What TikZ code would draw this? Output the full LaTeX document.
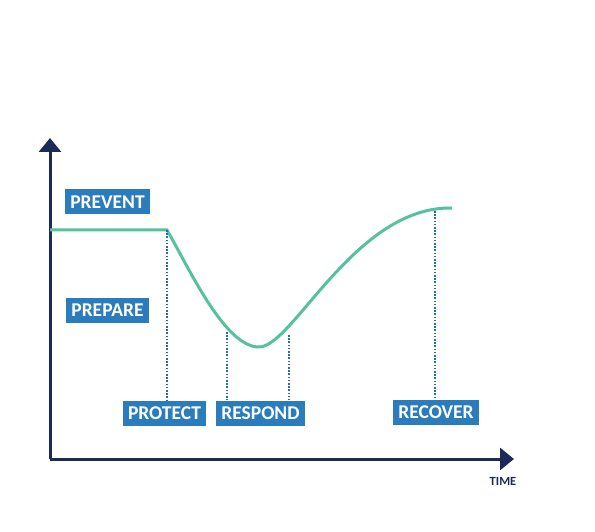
\documentclass[tikz,border=0pt]{standalone}
\usepackage{fontspec}
\setmainfont{Carlito}
\usetikzlibrary{arrows.meta}
\definecolor{axisblue}{HTML}{1B2A57}
\definecolor{curvegreen}{HTML}{55C29C}
\definecolor{boxblue}{HTML}{2A7CBC}
\definecolor{dotblue}{HTML}{2A68B8}
\tikzset{
  phase/.style={fill=boxblue, text=white, font=\fontsize{19.5}{19.5}\selectfont\bfseries, inner xsep=5.5pt, minimum height=25pt, text depth=0pt},
  axis/.style={draw=axisblue, line width=3pt},
  guide/.style={draw=dotblue, line width=1.1pt, dash pattern=on 1.6pt off 1.6pt}
}
\begin{document}
\begin{tikzpicture}[x=1pt, y=-1pt]
    \useasboundingbox (0,0) rectangle (595,532);
    \coordinate (o) at (50,459);
    \coordinate (ytop) at (50,138);
    \coordinate (xend) at (514,459);
    \begin{scope}[every node/.style=phase]
      \node (prevent) at (107.5,202) {PREVENT};
      \node (prepare) at (107.5,310) {PREPARE};
      \node (protect) at (164.5,413) {PROTECT};
      \node (respond) at (260.5,413) {RESPOND};
      \node (recover) at (436,412) {RECOVER};
    \end{scope}
    \node [text=axisblue, font=\fontsize{12.5}{12.5}\selectfont\bfseries] (time) at (503,481) {TIME};

      \draw [axis, -{Triangle[length=14pt, width=22pt]}] (o) -- (ytop);
      \draw [axis, -{Triangle[length=14pt, width=22pt]}] (o) -- (xend);

      % curve, and the points the guides hang from
      \draw [curvegreen, line width=3pt]
        (50,230) -- (167,230) coordinate (c1)
        .. controls (190,270) and (225,347) .. (259,347)
        .. controls (293,347) and (355,206) .. (452,208);
      \coordinate (c2) at (227,332);
      \coordinate (c3) at (289,335);
      \coordinate (c4) at (435,211);

      \draw [guide] (c1) -- (c1 |- protect.north);
      \draw [guide] (c2) -- (c2 |- respond.north);
      \draw [guide] (c3) -- (c3 |- respond.north);
      \draw [guide] (c4) -- (c4 |- recover.north);
  \end{tikzpicture}
\end{document}
